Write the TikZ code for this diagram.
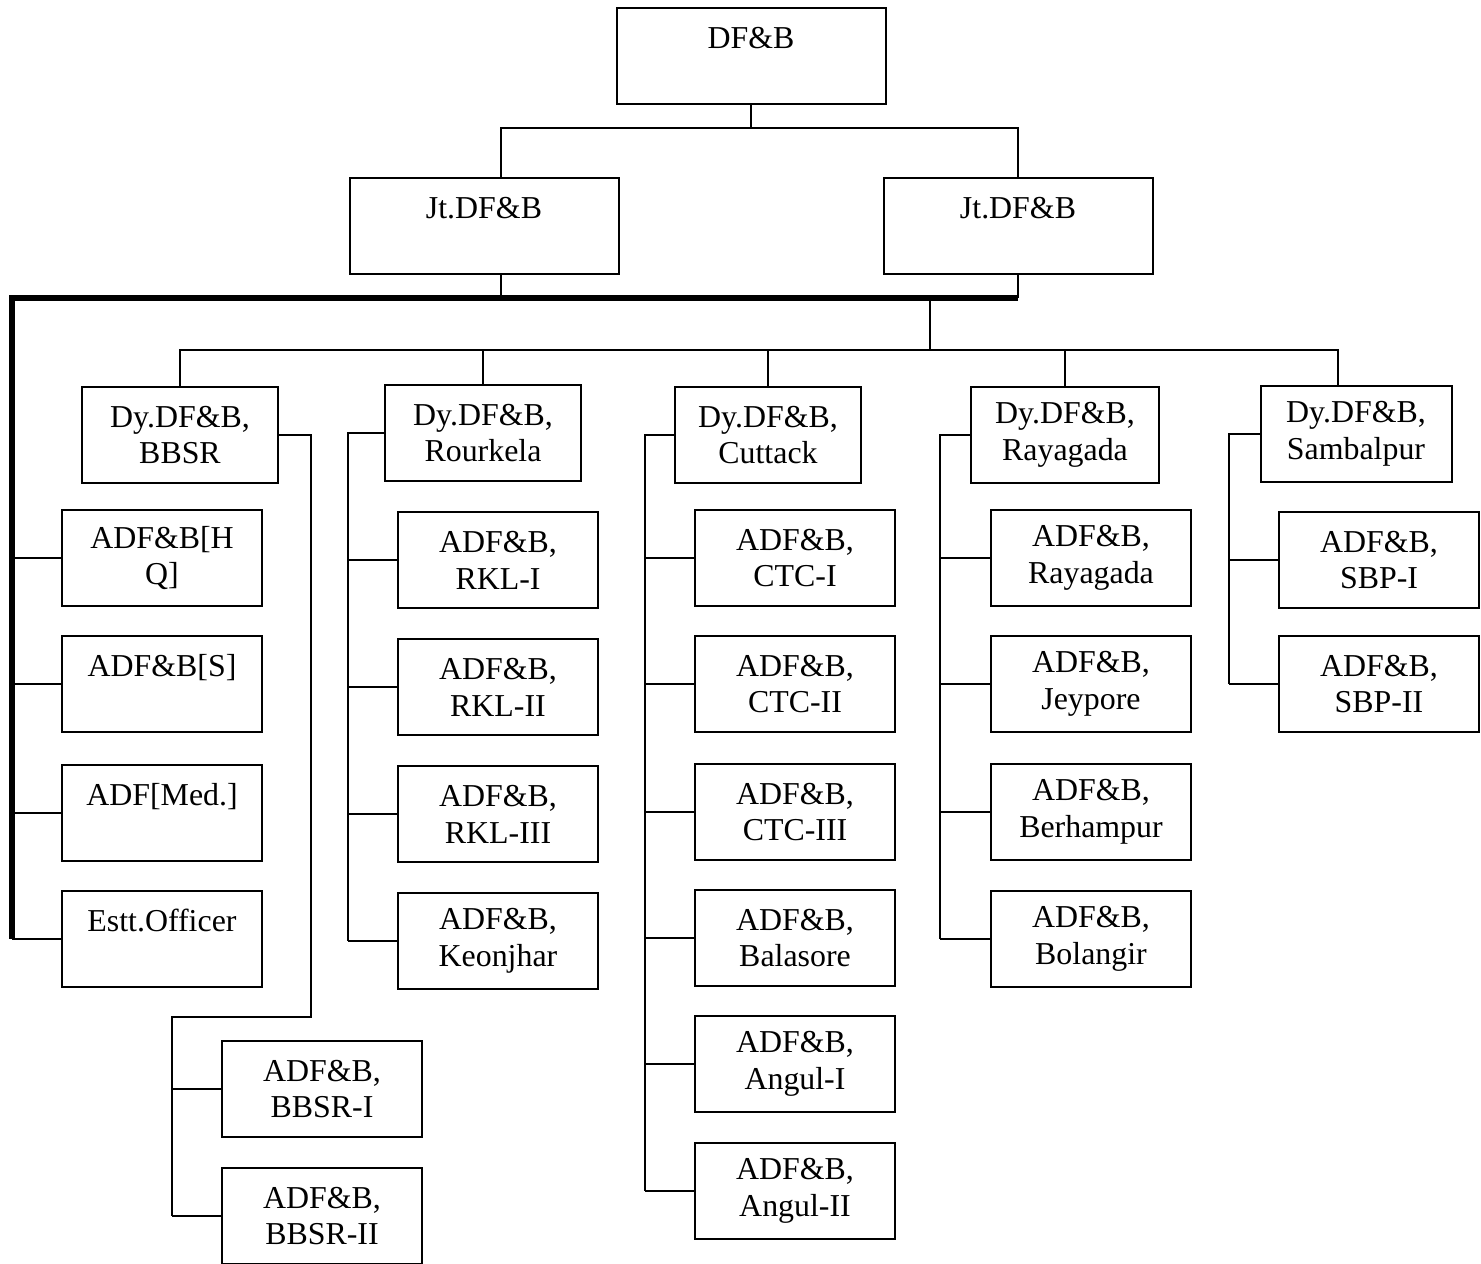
\documentclass[tikz,border=0pt]{standalone}
\usepackage{fontspec}
\setmainfont{Liberation Serif}
\tikzset{
  box/.style={draw,line width=1pt,rectangle,align=center,inner sep=0pt,minimum width=100bp,minimum height=48bp,font=\fontsize{16}{18.5}\selectfont},
  dybox/.style={box,minimum width=98bp},
  topbox/.style={box,minimum width=134.5bp},
  link/.style={line width=1pt},
  bus/.style={line width=3pt},
}
\begin{document}
\begin{tikzpicture}[scale=.5]
\useasboundingbox (0bp,0bp) rectangle (1481bp,-1264bp);
\node (dfb) at (751bp,-56bp)[topbox] {DF\&B\\\mbox{}};
\node (jt1) at (484bp,-226bp)[topbox] {Jt.DF\&B\\\mbox{}};
\node (jt2) at (1018bp,-226bp)[topbox] {Jt.DF\&B\\\mbox{}};
\node (dy1) at (180bp,-435bp)[dybox] {Dy.DF\&B,\\BBSR};
\node (dy2) at (483bp,-433bp)[dybox] {Dy.DF\&B,\\Rourkela};
\node (dy3) at (768bp,-435bp)[dybox,minimum width=93bp] {Dy.DF\&B,\\Cuttack};
\node (dy4) at (1065bp,-435bp)[dybox,minimum width=94bp] {Dy.DF\&B,\\Rayagada};
\node (dy5) at (1356bp,-434bp)[dybox,minimum width=95.5bp] {Dy.DF\&B,\\Sambalpur};
\node (hq) at (162bp,-558bp)[box] {ADF\&B[H\\Q]};
\node (s) at (162bp,-684bp)[box] {ADF\&B[S]\\\mbox{}};
\node (med) at (162bp,-813bp)[box] {ADF[Med.]\\\mbox{}};
\node (estt) at (162bp,-939bp)[box] {Estt.Officer\\\mbox{}};
\node (bbsr1) at (322bp,-1089bp)[box] {ADF\&B,\\BBSR-I};
\node (bbsr2) at (322bp,-1216bp)[box] {ADF\&B,\\BBSR-II};
\node (rkl1) at (498bp,-560bp)[box] {ADF\&B,\\RKL-I};
\node (rkl2) at (498bp,-687bp)[box] {ADF\&B,\\RKL-II};
\node (rkl3) at (498bp,-814bp)[box] {ADF\&B,\\RKL-III};
\node (keon) at (498bp,-941bp)[box] {ADF\&B,\\Keonjhar};
\node (ctc1) at (795bp,-558bp)[box] {ADF\&B,\\CTC-I};
\node (ctc2) at (795bp,-684bp)[box] {ADF\&B,\\CTC-II};
\node (ctc3) at (795bp,-812bp)[box] {ADF\&B,\\CTC-III};
\node (bal) at (795bp,-938bp)[box] {ADF\&B,\\Balasore};
\node (ang1) at (795bp,-1064bp)[box] {ADF\&B,\\Angul-I};
\node (ang2) at (795bp,-1191bp)[box] {ADF\&B,\\Angul-II};
\node (ray) at (1091bp,-558bp)[box] {ADF\&B,\\Rayagada};
\node (jey) at (1091bp,-684bp)[box] {ADF\&B,\\Jeypore};
\node (ber) at (1091bp,-812bp)[box] {ADF\&B,\\Berhampur};
\node (bol) at (1091bp,-939bp)[box] {ADF\&B,\\Bolangir};
\node (sbp1) at (1379bp,-560bp)[box] {ADF\&B,\\SBP-I};
\node (sbp2) at (1379bp,-684bp)[box] {ADF\&B,\\SBP-II};
\coordinate (j1) at (501bp,-128bp);
\coordinate (hq0) at (12bp,-298bp);
\coordinate (dbus) at (930bp,-350bp);
\coordinate (d5) at (1338bp,-350bp);
\coordinate (s1) at (311bp,-1017bp);
\draw[link] (dfb.south) -- (dfb.south |- j1);
\draw[link] (jt1.north -| j1) |- (dfb.south |- j1) -| (jt2.north);
\draw[link] (jt1.south -| j1) -- (hq0 -| j1);
\draw[link] (jt2.south) -- (jt2.south |- hq0);
\draw[bus] (jt2.south |- hq0) -- (hq0) -- (hq0 |- estt.west);
\foreach \n in {hq,s,med,estt} \draw[link] (hq0 |- \n.west) -- (\n.west);
\draw[link] (dbus |- hq0) -- (dbus);
\draw[link] (dy1.north) |- (d5) -- (d5 |- dy5.north);
\foreach \n in {dy2,dy3,dy4} \draw[link] (\n.north |- dbus) -- (\n.north);
\draw[link] (dy1.east) -| (s1) -| (bbsr2.west -| 172bp,0);
\foreach \n in {bbsr1,bbsr2} \draw[link] (\n.west -| 172bp,0) -- (\n.west);
\draw[link] (dy2.west) -| (keon.west -| 348bp,0);
\foreach \n in {rkl1,rkl2,rkl3,keon} \draw[link] (\n.west -| 348bp,0) -- (\n.west);
\draw[link] (dy3.west) -| (ang2.west -| 645bp,0);
\foreach \n in {ctc1,ctc2,ctc3,bal,ang1,ang2} \draw[link] (\n.west -| 645bp,0) -- (\n.west);
\draw[link] (dy4.west) -| (bol.west -| 940bp,0);
\foreach \n in {ray,jey,ber,bol} \draw[link] (\n.west -| 940bp,0) -- (\n.west);
\draw[link] (dy5.west) -| (sbp2.west -| 1229bp,0);
\foreach \n in {sbp1,sbp2} \draw[link] (\n.west -| 1229bp,0) -- (\n.west);
\end{tikzpicture}
\end{document}
